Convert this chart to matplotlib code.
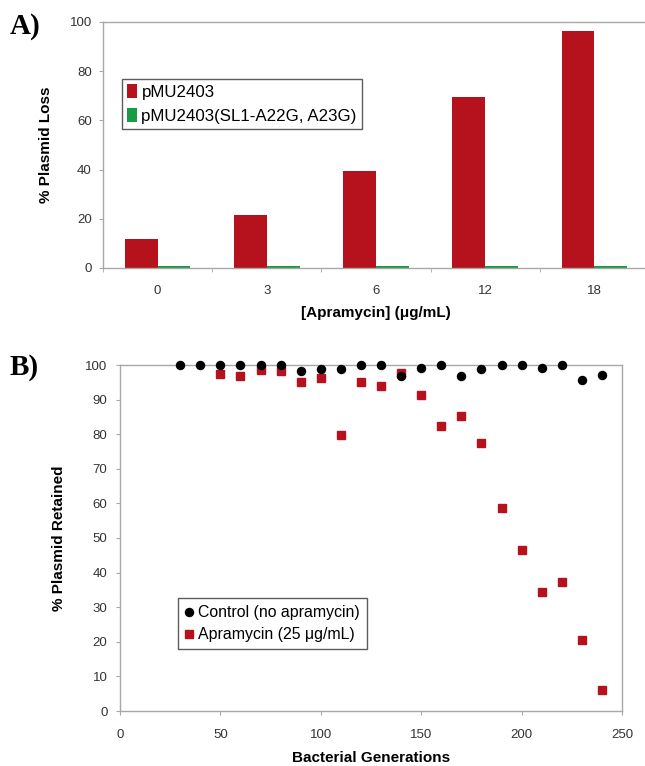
#!/usr/bin/env python3

import numpy as np
import matplotlib
matplotlib.use('Agg')
import matplotlib.pyplot as plt

plt.rcParams['font.family'] = ['Liberation Sans', 'DejaVu Sans']

# Panel A data
conc_labels = ['0', '3', '6', '12', '18']
loss_wt = [11.8, 21.5, 39.5, 69.5, 96.5]
loss_mut = [1.0, 1.0, 1.0, 1.0, 1.0]

# Panel B data
gen_ctrl = [30, 40, 50, 60, 70, 80, 90, 100, 110, 120, 130,
            140, 150, 160, 170, 180, 190, 200, 210, 220, 230, 240]
ret_ctrl = [100, 100, 100, 100, 100, 100, 98.4, 98.9, 98.9, 100, 100,
            96.8, 99.1, 100, 96.9, 98.9, 100, 100, 99.1, 100, 95.6, 97.1]
gen_apra = [50, 60, 70, 80, 90, 100, 110, 120, 130, 140,
            150, 160, 170, 180, 190, 200, 210, 220, 230, 240]
ret_apra = [97.4, 96.9, 98.6, 98.2, 95.1, 96.3, 79.8, 95.0, 94.0, 97.7,
            91.2, 82.5, 85.4, 77.5, 58.8, 46.5, 34.5, 37.2, 20.4, 6.2]

RED = '#b5121e'
GREEN = '#1b9a45'
GRAY = '#a8a8a8'
TXT = '#333333'


def style_axes(ax):
    for s in ax.spines.values():
        s.set_color(GRAY)
        s.set_linewidth(1.0)
    ax.tick_params(colors=GRAY, labelcolor=TXT, labelsize=9.5,
                   direction='out', length=3, width=0.8)


fig = plt.figure(figsize=(6.45, 7.66), dpi=100)

# ---- A ----
ax1 = fig.add_axes([103 / 645, 1 - 268 / 766, 546 / 645, 246 / 766])
x = np.arange(len(conc_labels))
w = 0.3
ax1.bar(x - w / 2, loss_wt, w, color=RED, label='pMU2403')
ax1.bar(x + w / 2, loss_mut, w, color=GREEN, label='pMU2403(SL1-A22G, A23G)')
ax1.set_xlim(-0.5, len(conc_labels) - 0.5)
ax1.set_ylim(0, 100)
ax1.set_yticks(range(0, 101, 20))
ax1.set_xticks(x)
ax1.set_xticklabels(conc_labels)
ax1.set_xticks(np.arange(-0.5, len(conc_labels)), minor=True)
style_axes(ax1)
ax1.tick_params(axis='x', which='major', length=0, pad=12)
ax1.tick_params(axis='x', which='minor', length=3, color=GRAY)
ax1.tick_params(axis='y', pad=5)
ax1.set_xlabel('[Apramycin] (\u03bcg/mL)', fontsize=11, fontweight='bold', labelpad=7)
ax1.set_ylabel('% Plasmid Loss', fontsize=11, fontweight='bold', labelpad=12)
leg1 = ax1.legend(loc='upper left', bbox_to_anchor=(122 / 645, 1 - 79 / 766),
                  bbox_transform=fig.transFigure, fontsize=12.2, frameon=True,
                  fancybox=False, edgecolor='#333333', handlelength=0.6,
                  handleheight=0.9, handletextpad=0.25, labelspacing=0.5,
                  borderpad=0.3, borderaxespad=0)
leg1.get_frame().set_linewidth(1.0)

# ---- B ----
ax2 = fig.add_axes([120 / 645, 1 - 711 / 766, 502 / 645, 346 / 766])
ax2.plot(gen_ctrl, ret_ctrl, 'o', color='black', ms=5.8,
         label='Control (no apramycin)', clip_on=False, zorder=3)
ax2.plot(gen_apra, ret_apra, 's', color=RED, ms=5.8,
         label='Apramycin (25 \u03bcg/mL)', clip_on=False, zorder=2)
ax2.set_xlim(0, 250)
ax2.set_ylim(0, 100)
ax2.set_xticks(range(0, 251, 50))
ax2.set_yticks(range(0, 101, 10))
style_axes(ax2)
ax2.tick_params(axis='x', pad=10)
ax2.tick_params(axis='y', pad=6)
ax2.set_xlabel('Bacterial Generations', fontsize=11, fontweight='bold', labelpad=7)
ax2.set_ylabel('% Plasmid Retained', fontsize=11, fontweight='bold', labelpad=14)
leg2 = ax2.legend(loc='upper left', bbox_to_anchor=(178 / 645, 1 - 598 / 766),
                  bbox_transform=fig.transFigure, fontsize=11.4, frameon=True,
                  fancybox=False, edgecolor='#333333', handlelength=0.5,
                  handletextpad=0.3, labelspacing=0.45, borderpad=0.45,
                  borderaxespad=0)
leg2.get_frame().set_linewidth(1.0)

# panel letters
fig.text(10 / 645, 1 - 27 / 766, 'A)', family='Liberation Serif', fontsize=21,
         fontweight='bold', va='center', ha='left')
fig.text(10 / 645, 1 - 368 / 766, 'B)', family='Liberation Serif', fontsize=21,
         fontweight='bold', va='center', ha='left')

fig.savefig('out.png', dpi=100)
